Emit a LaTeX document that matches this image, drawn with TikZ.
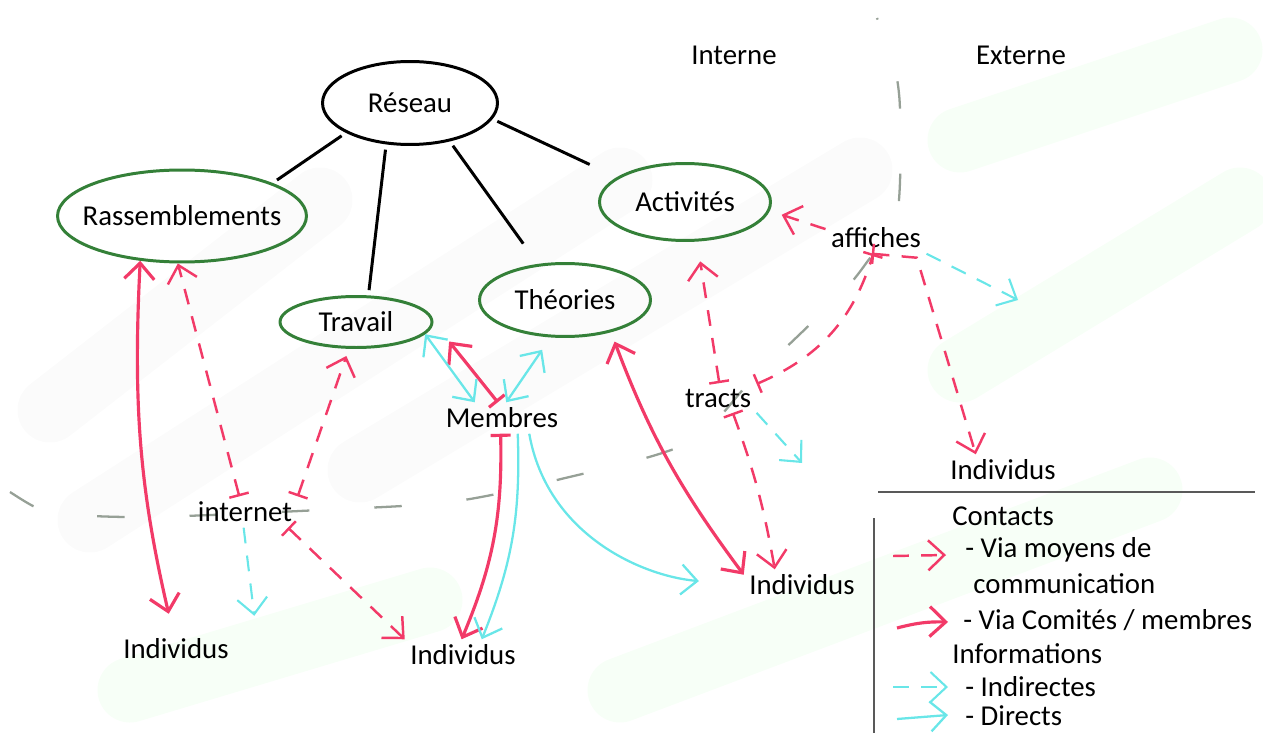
\documentclass[tikz,border=0pt]{standalone}
\usepackage{fontspec}
\setmainfont{Carlito}
\usetikzlibrary{arrows.meta,shapes.geometric}
\definecolor{rose}{RGB}{242,58,104}
\definecolor{aqua}{RGB}{105,230,232}
\definecolor{leaf}{RGB}{52,128,56}
\definecolor{divider}{RGB}{150,160,150}
\tikzset{
  bubble/.style={ellipse,draw=leaf,line width=1.7pt,inner sep=-1cm,align=center},
  hub/.style={bubble,draw=black},
  word/.style={inner sep=3pt},
  keytext/.style={anchor=west,inner sep=0pt},
  link/.style={draw=black,line width=1.7pt,shorten <=3pt,shorten >=3pt},
  via/.style={->,draw=rose,line width=1.4pt,dash pattern=on 9pt off 7pt},
  comite/.style={->,draw=rose,line width=1.8pt},
  indirect/.style={->,draw=aqua,line width=1.2pt,dash pattern=on 9pt off 7pt},
  direct/.style={->,draw=aqua,line width=1.3pt},
  tailed/.style={arrows={Bar[width=4mm]->}},
  crossbar/.style={arrows={Bar[width=4mm]-Bar[width=4mm]}},
  border/.style={draw=divider,line width=1.3pt,dash pattern=on 0.55cm off 1.3cm},
  legendline/.style={draw=gray!70!black,line width=1.3pt},
  band/.style={line width=1.3cm,line cap=round,draw=gray!3}
}
\begin{document}
\begin{tikzpicture}[x=0.02cm,y=-0.02cm,>={Straight Barb[length=3.2mm,width=6mm]},
  font=\fontsize{16.4}{19.5}\selectfont]
\useasboundingbox (0,0) rectangle (1263,733);

% faint strokes in the background
\draw[band] (50,410) -- (320,200);
\draw[band] (90,520) -- (620,180);
\draw[band] (360,470) -- (860,170);
\draw[band,draw=green!3] (960,140) -- (1230,50);
\draw[band,draw=green!3] (960,370) -- (1240,200);
\draw[band,draw=green!3] (620,690) -- (1150,490);
\draw[band,draw=green!3] (130,690) -- (430,600);

% interne / externe
\draw[border] plot[smooth] coordinates {(10,492) (35,507) (60,514) (150,517) (320,510)
  (450,502) (557,480) (688,443) (752,380) (837,298) (867,262) (897,215) (900,110)
  (893,60) (877,18)};
\node[word] (inside) at (734,55) {Interne};
\node[word] (outside) at (1021,55) {Externe};

% network
\node[hub,minimum width=3.5cm,minimum height=1.66cm] (res) at (410,103) {Réseau};
\node[bubble,minimum width=4.98cm,minimum height=1.84cm] (ras) at (182,216) {Rassemblements};
\node[bubble,minimum width=3.04cm,minimum height=1.02cm] (trav) at (356,322) {Travail};
\node[bubble,minimum width=3.42cm,minimum height=1.46cm] (theo) at (565,300) {Théories};
\node[bubble,minimum width=3.42cm,minimum height=1.54cm] (act) at (685,202) {Activités};
\draw[link] (res.205) -- (ras.20);
\draw[link] (res.240) -- (trav.65);
\draw[link,shorten >=0.5cm] (res.316) -- (theo.127);
\draw[link,shorten >=0.6cm] (res.349) -- (act.160);

% relays and people
\node[word] (aff) at (876,238) {affiches};
\node[word] (tra) at (718,398) {tracts};
\node[word] (mem) at (502,418) {Membres};
\node[word] (int) at (245,512) {internet};
\node[word] (ind1) at (176,649) {Individus};
\node[word] (ind2) at (463,655) {Individus};
\node[word] (ind3) at (802,585) {Individus};
\node[word] (ind4) at (1003,470) {Individus};
\coordinate (ext1) at (1018,300);
\coordinate (ext2) at (802,463);

% contacts
\draw[comite,<->,shorten >=0.4cm] (ras.227) to[bend right=8] (ind1.100);
\draw[via,tailed] (int.110) -- (ras.265);
\draw[via,tailed,shorten >=0.15cm] (int.north east) -- (trav.255);
\draw[via,tailed] (int.-20) -- (ind2.north west);
\draw[comite,tailed,shorten >=0.5cm] (mem.105) -- (trav.east);
\draw[comite,tailed] (mem.265) to[bend left=12] (ind2.95);
\draw[comite,<->,shorten <=0.2cm] (theo.-35) to[bend right=8] (ind3.170);
\draw[via,tailed,shorten >=0.4cm] (tra.85) -- (act.-73);
\draw[via,crossbar] (tra.20) to[bend right=25] (aff.260);
\draw[via,tailed] (tra.-45) to[bend left=5] (ind3.150);
\draw[via,shorten >=0.25cm] (aff.170) -- (act.-6);
\draw[via,tailed] (aff.255) -- ++(45,4) -- (ind4.150);

% informations
\draw[indirect] (int.265) -- ([xshift=0.4cm,yshift=0.35cm]ind1.north east);
\draw[direct,<->] (trav.-10) -- (mem.150);
\draw[direct,<->,shorten >=0.3cm] (mem.75) -- (theo.249);
\draw[direct] (mem.-45) to[bend left=12] (ind2.40);
\draw[direct,shorten >=0.9cm] (mem.-30) to[out=-80,in=175] (ind3.west);
\draw[indirect] (tra.south east) -- (ext2);
\draw[indirect] (aff.south east) -- (ext1);

% legend
\draw[legendline] (878,492) -- (1255,492);
\draw[legendline] (874,518) -- (874,733);
\node[keytext] (lc) at (952,516) {Contacts};
\node[keytext] (lv) at (965,550) {- Via moyens de};
\node[keytext] (lcom) at (973,584) {communication};
\node[keytext] (lm) at (963,620) {- Via Comités / membres};
\node[keytext] (li) at (952,654) {Informations};
\node[keytext] (lind) at (965,687) {- Indirectes};
\node[keytext] (ld) at (965,716) {- Directs};
\draw[via] ([xshift=-1.44cm,yshift=-0.12cm]lv.west) -- ([xshift=-0.38cm,yshift=-0.1cm]lv.west);
\draw[comite] ([xshift=-1.32cm,yshift=-0.16cm]lm.west) to[bend left=8] ([xshift=-0.3cm,yshift=-0.04cm]lm.west);
\draw[indirect] ([xshift=-1.44cm]lind.west) -- ([xshift=-0.34cm]lind.west);
\draw[direct] ([xshift=-1.36cm,yshift=-0.06cm]ld.west) -- ([xshift=-0.34cm,yshift=0.02cm]ld.west);
\end{tikzpicture}
\end{document}
